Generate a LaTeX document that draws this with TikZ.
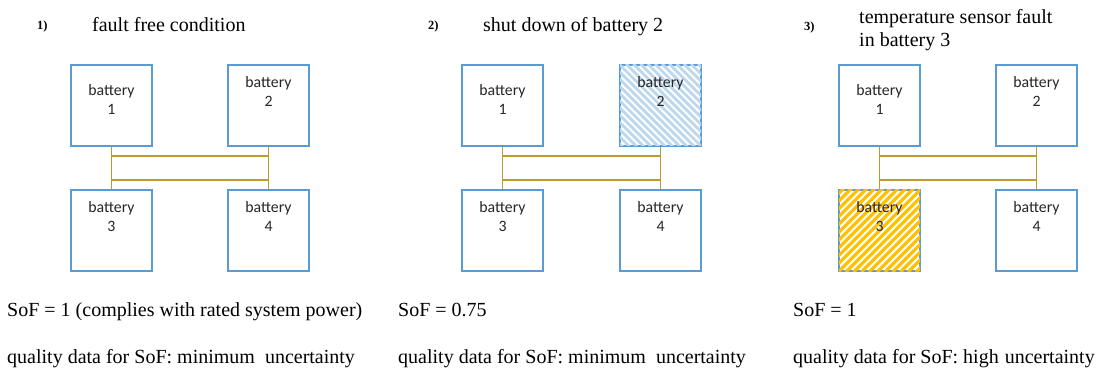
\documentclass[tikz,border=0pt]{standalone}
\usepackage{fontspec}
\setmainfont{Liberation Serif}
\newfontfamily\boxfont{Carlito}
\usetikzlibrary{calc}

\definecolor{batblue}{HTML}{5B9BD5}
\definecolor{busgold}{HTML}{C09A2A}
\definecolor{offblue}{HTML}{BDD7EE}
\definecolor{faultyellow}{HTML}{FFC000}

\tikzset{
  bat/.style={draw=batblue, line width=2pt, minimum width=81pt, minimum height=81pt, inner sep=0pt},
  btxt/.style={font=\boxfont\fontsize{15.8}{19.5}\selectfont, align=center, text=black!85, inner sep=0pt},
  bus/.style={draw=busgold, line width=1.6pt},
  title/.style={font=\fontsize{20}{23}\selectfont, anchor=base west, inner sep=0pt},
  num/.style={font=\bfseries\fontsize{12.5}{14}\selectfont, anchor=base west, inner sep=0pt},
  info/.style={font=\fontsize{20}{23}\selectfont, anchor=base west, inner sep=0pt},
}

% four batteries with their bus; #1 name prefix, #2 left column x, #3 right column x
\newcommand\batterypanel[3]{%
  \node[bat] (#1b1) at (#2+41.5,105.5) {};
  \node[bat] (#1b2) at (#3+41.5,105.5) {};
  \node[bat] (#1b3) at (#2+41.5,230.5) {};
  \node[bat] (#1b4) at (#3+41.5,230.5) {};
  \draw[bus] (#1b1.south) -- (#1b3.north);
  \draw[bus] (#1b2.south) -- (#1b4.north);
  \draw[bus] ($(#1b1.south)!0.214!(#1b3.north)$) -- ($(#1b2.south)!0.214!(#1b4.north)$);
  \draw[bus] ($(#1b1.south)!0.786!(#1b3.north)$) -- ($(#1b2.south)!0.786!(#1b4.north)$);
}
% battery labels
\newcommand\batterylabels[1]{%
  \node[btxt] (#1t1) at ($(#1b1.north)+(0,35.5)$) {battery\\1};
  \node[btxt] (#1t2) at ($(#1b2.north)+(0,27.5)$) {battery\\2};
  \node[btxt] (#1t3) at ($(#1b3.north)+(0,27.5)$) {battery\\3};
  \node[btxt] (#1t4) at ($(#1b4.north)+(0,27.5)$) {battery\\4};
}

\begin{document}
\begin{tikzpicture}[x=1pt,y=-1pt]
\useasboundingbox[fill=white] (0,0) rectangle (1099,371);

% headings
\node[num] (n1) at (37,29.5) {1)};
\node[title] (h1) at (92,31.5) {fault free condition};
\node[num] (n2) at (428,30) {2)};
\node[title] (h2) at (483,31.5) {shut down of battery 2};
\node[num] (n3) at (804,31) {3)};
\node[title] (h3a) at (859,23.5) {temperature sensor fault};
\node[title] (h3b) at (859,46.5) {in battery 3};

% panels
\batterypanel{p}{70}{227}
\batterypanel{q}{461}{619}
\batterypanel{r}{838}{995}

% battery 2 switched off: light blue hatching
\begin{scope}
  \clip ($(qb2.south west)+(1,-1)$) rectangle ($(qb2.north east)+(-1,1)$);
  \foreach \k in {-14,...,14}
    \draw[offblue, line width=2.8pt] ($(qb2.north west)+(\k*7.2,0)$) -- ++(90,90);
\end{scope}

% battery 3 sensor fault: yellow hatching
\begin{scope}
  \clip ($(rb3.south west)+(1,-1)$) rectangle ($(rb3.north east)+(-1,1)$);
  \foreach \k in {-14,...,14}
    \draw[faultyellow, line width=3.2pt] ($(rb3.south west)+(\k*7.8,0)$) -- ++(90,-90);
\end{scope}

\batterylabels{p}
\batterylabels{q}
\batterylabels{r}

% state of function
\node[info] (s1) at (7,316) {SoF = 1 (complies with rated system power)};
\node[info] (s2) at (398,316) {SoF = 0.75};
\node[info] (s3) at (793,316) {SoF = 1};
\node[info] (u1) at (7,363) {quality data for SoF: minimum\ \ uncertainty};
\node[info] (u2) at (398,363) {quality data for SoF: minimum\ \ uncertainty};
\node[info] (u3) at (793,363) {quality data for SoF: high\hspace{6pt}uncertainty};
\end{tikzpicture}
\end{document}
